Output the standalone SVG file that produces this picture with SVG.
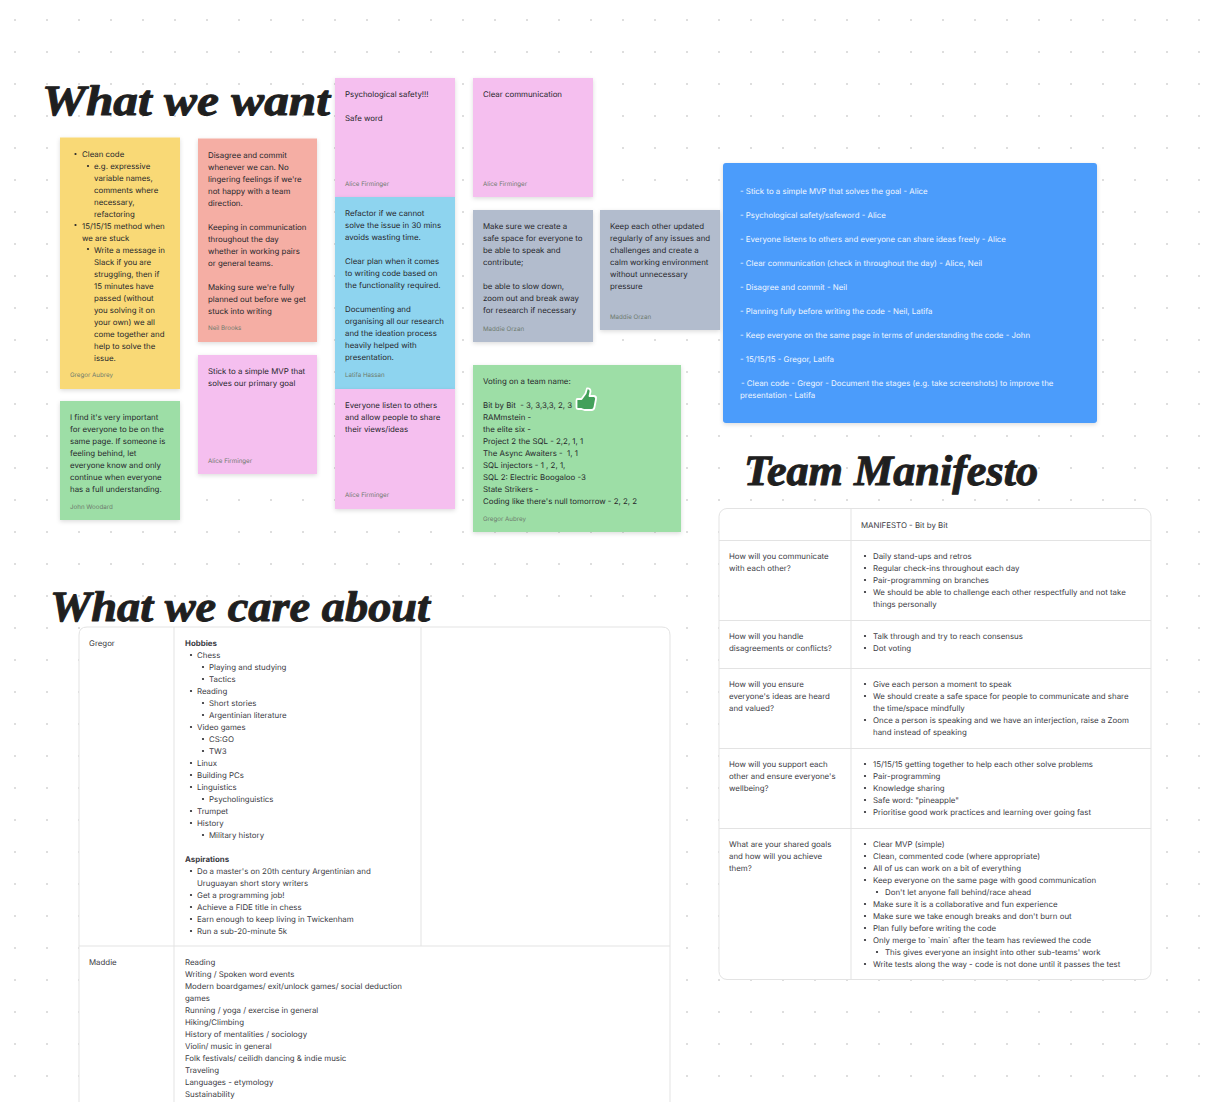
<svg xmlns="http://www.w3.org/2000/svg" width="1210" height="1102" viewBox="0 0 1210 1102">
<style>
text{font-family:Inter,"Liberation Sans",sans-serif;font-size:7.88px;fill:#26262b;text-rendering:geometricPrecision;transform:translateY(-.5px)}
.h{font-family:"Liberation Serif",serif;font-style:italic;font-weight:700;font-size:43px;fill:#1f1f1f;stroke:#1f1f1f;stroke-width:1;stroke-linejoin:round;transform:none}
.a{font-size:6.2px;fill:#6d7a6d}
.w{fill:#f2f7ff}
.t{fill:#3a3a3f}
.b{font-weight:700}
.p{white-space:pre}
.n{filter:url(#s)}
.l{fill:none;stroke:#e3e3e3;stroke-width:1}
</style>
<defs>
<pattern id="d" width="32" height="32" patternUnits="userSpaceOnUse" x="15" y="20"><circle cx="0" cy="0" r="1.1" fill="#d6d6d6"/><circle cx="32" cy="0" r="1.1" fill="#d6d6d6"/><circle cx="0" cy="32" r="1.1" fill="#d6d6d6"/><circle cx="32" cy="32" r="1.1" fill="#d6d6d6"/></pattern>
<filter id="s" x="-10%" y="-10%" width="120%" height="120%"><feDropShadow dx="0" dy="1.5" stdDeviation="2" flood-color="#000" flood-opacity=".14"/></filter>
<g id="bullet"><circle r="1.1" fill="#26262b"/></g>
</defs>
<rect width="1210" height="1102" fill="#fff"/>
<rect width="1210" height="1102" fill="url(#d)"/>

<g id="title-want"><text class="h" x="42" y="115" textLength="288" lengthAdjust="spacingAndGlyphs">What we want</text></g>
<g id="title-care"><text class="h" x="50" y="621" textLength="380" lengthAdjust="spacingAndGlyphs">What we care about</text></g>
<g id="title-manifesto"><text class="h" x="744" y="485" textLength="294" lengthAdjust="spacingAndGlyphs">Team Manifesto</text></g>

<g id="note-yellow"><rect class="n" x="60" y="137.500" width="120" height="251.500" fill="#f9d976"/>
<use href="#bullet" x="75.500" y="154"/><use href="#bullet" x="88" y="166"/><use href="#bullet" x="75.500" y="225"/><use href="#bullet" x="88" y="249"/>
<text y="157"><tspan x="82">Clean code</tspan><tspan x="94" dy="12">e.g. expressive</tspan><tspan x="94" dy="12">variable names,</tspan><tspan x="94" dy="12">comments where</tspan><tspan x="94" dy="12">necessary,</tspan><tspan x="94" dy="12">refactoring</tspan><tspan x="82" dy="12">15/15/15 method when</tspan><tspan x="82" dy="12">we are stuck</tspan><tspan x="94" dy="12">Write a message in</tspan><tspan x="94" dy="12">Slack if you are</tspan><tspan x="94" dy="12">struggling, then if</tspan><tspan x="94" dy="12">15 minutes have</tspan><tspan x="94" dy="12">passed (without</tspan><tspan x="94" dy="12">you solving it on</tspan><tspan x="94" dy="12">your own) we all</tspan><tspan x="94" dy="12">come together and</tspan><tspan x="94" dy="12">help to solve the</tspan><tspan x="94" dy="12">issue.</tspan></text>
<text class="a" x="70" y="377">Gregor Aubrey</text></g>

<g id="note-salmon"><rect class="n" x="198" y="138.500" width="119" height="203.500" fill="#f5aea4"/>
<text y="158"><tspan x="208">Disagree and commit</tspan><tspan x="208" dy="12">whenever we can. No</tspan><tspan x="208" dy="12">lingering feelings if we're</tspan><tspan x="208" dy="12">not happy with a team</tspan><tspan x="208" dy="12">direction.</tspan><tspan x="208" dy="24">Keeping in communication</tspan><tspan x="208" dy="12">throughout the day</tspan><tspan x="208" dy="12">whether in working pairs</tspan><tspan x="208" dy="12">or general teams.</tspan><tspan x="208" dy="24">Making sure we're fully</tspan><tspan x="208" dy="12">planned out before we get</tspan><tspan x="208" dy="12">stuck into writing</tspan></text>
<text class="a" x="208" y="330">Neil Brooks</text></g>

<g id="note-pink-1"><rect class="n" x="335" y="78" width="120" height="119" fill="#f5bfef"/>
<text x="345" y="97">Psychological safety!!!</text><text x="345" y="121">Safe word</text>
<text class="a" x="345" y="186">Alice Firminger</text></g>

<g id="note-pink-2"><rect class="n" x="473" y="78" width="120" height="119" fill="#f5bfef"/>
<text x="483" y="97">Clear communication</text>
<text class="a" x="483" y="186">Alice Firminger</text></g>

<g id="note-blue"><rect class="n" x="335" y="197" width="120" height="192" fill="#8ed4ef"/>
<text y="216"><tspan x="345">Refactor if we cannot</tspan><tspan x="345" dy="12">solve the issue in 30 mins</tspan><tspan x="345" dy="12">avoids wasting time.</tspan><tspan x="345" dy="24">Clear plan when it comes</tspan><tspan x="345" dy="12">to writing code based on</tspan><tspan x="345" dy="12">the functionality required.</tspan><tspan x="345" dy="24">Documenting and</tspan><tspan x="345" dy="12">organising all our research</tspan><tspan x="345" dy="12">and the ideation process</tspan><tspan x="345" dy="12">heavily helped with</tspan><tspan x="345" dy="12">presentation.</tspan></text>
<text class="a" x="345" y="377">Latifa Hassan</text></g>

<g id="note-gray-1"><rect class="n" x="473" y="210" width="120" height="132" fill="#b2bccd"/>
<text y="229"><tspan x="483">Make sure we create a</tspan><tspan x="483" dy="12">safe space for everyone to</tspan><tspan x="483" dy="12">be able to speak and</tspan><tspan x="483" dy="12">contribute;</tspan><tspan x="483" dy="24">be able to slow down,</tspan><tspan x="483" dy="12">zoom out and break away</tspan><tspan x="483" dy="12">for research if necessary</tspan></text>
<text class="a" x="483" y="331">Maddie Orzan</text></g>

<g id="note-gray-2"><rect class="n" x="600" y="210" width="120" height="120" fill="#b2bccd"/>
<text y="229"><tspan x="610">Keep each other updated</tspan><tspan x="610" dy="12">regularly of any issues and</tspan><tspan x="610" dy="12">challenges and create a</tspan><tspan x="610" dy="12">calm working environment</tspan><tspan x="610" dy="12">without unnecessary</tspan><tspan x="610" dy="12">pressure</tspan></text>
<text class="a" x="610" y="319">Maddie Orzan</text></g>

<g id="note-green-1"><rect class="n" x="60" y="401" width="120" height="119" fill="#9ddea6"/>
<text y="420"><tspan x="70">I find it's very important</tspan><tspan x="70" dy="12">for everyone to be on the</tspan><tspan x="70" dy="12">same page. If someone is</tspan><tspan x="70" dy="12">feeling behind, let</tspan><tspan x="70" dy="12">everyone know and only</tspan><tspan x="70" dy="12">continue when everyone</tspan><tspan x="70" dy="12">has a full understanding.</tspan></text>
<text class="a" x="70" y="509">John Woodard</text></g>

<g id="note-pink-3"><rect class="n" x="198" y="355" width="119" height="119" fill="#f5bfef"/>
<text y="374"><tspan x="208">Stick to a simple MVP that</tspan><tspan x="208" dy="12">solves our primary goal</tspan></text>
<text class="a" x="208" y="463">Alice Firminger</text></g>

<g id="note-pink-4"><rect class="n" x="335" y="389" width="120" height="120" fill="#f5bfef"/>
<text y="408"><tspan x="345">Everyone listen to others</tspan><tspan x="345" dy="12">and allow people to share</tspan><tspan x="345" dy="12">their views/ideas</tspan></text>
<text class="a" x="345" y="497">Alice Firminger</text></g>

<g id="note-green-2"><rect class="n" x="473" y="365" width="208" height="167" fill="#9ddea6"/>
<text class="p" y="384"><tspan x="483">Voting on a team name:</tspan><tspan x="483" dy="24">Bit by Bit  - 3, 3,3,3, 2, 3</tspan><tspan x="483" dy="12">RAMmstein -</tspan><tspan x="483" dy="12">the elite six -</tspan><tspan x="483" dy="12">Project 2 the SQL - 2,2, 1, 1</tspan><tspan x="483" dy="12">The Async Awaiters -  1, 1</tspan><tspan x="483" dy="12">SQL injectors - 1 , 2, 1,</tspan><tspan x="483" dy="12">SQL 2: Electric Boogaloo -3</tspan><tspan x="483" dy="12">State Strikers -</tspan><tspan x="483" dy="12">Coding like there's null tomorrow - 2, 2, 2</tspan></text>
<text class="a" x="483" y="521">Gregor Aubrey</text></g>

<g id="thumb"><path d="M578 399h3.500l4-5.500 1.500-5q3.500-.5 3.500 3l-1 4.500h4.500q2.500.5 2 3l-1.500 8q-.5 3-3 3h-7l-3-1h-3.500q-1.500 0-1.500-1.500v-7q0-1.500 1-1.500z" fill="#43a05a" stroke="#fff" stroke-width="1.800" stroke-linejoin="round"/></g>

<g id="note-summary"><rect class="n" x="723" y="163" width="374" height="260" rx="3" fill="#4b9cfb"/>
<text y="194"><tspan class="w" x="740">- Stick to a simple MVP that solves the goal - Alice</tspan><tspan class="w" x="740" dy="24">- Psychological safety/safeword - Alice</tspan><tspan class="w" x="740" dy="24">- Everyone listens to others and everyone can share ideas freely - Alice</tspan><tspan class="w" x="740" dy="24">- Clear communication (check in throughout the day) - Alice, Neil</tspan><tspan class="w" x="740" dy="24">- Disagree and commit - Neil</tspan><tspan class="w" x="740" dy="24">- Planning fully before writing the code - Neil, Latifa</tspan><tspan class="w" x="740" dy="24">- Keep everyone on the same page in terms of understanding the code - John</tspan><tspan class="w" x="740" dy="24">- 15/15/15 - Gregor, Latifa</tspan><tspan class="w" x="741" dy="24">- Clean code - Gregor - Document the stages (e.g. take screenshots) to improve the</tspan><tspan class="w" x="740" dy="12">presentation - Latifa</tspan></text></g>

<g id="table-care">
<path d="M79 1102V635q0-8 8-8H662q8 0 8 8V1102Z" fill="#fff"/>
<path class="l" d="M79 1102V635q0-8 8-8H662q8 0 8 8V1102M174 627V1102M421 627V946M79 946H670"/>
<use href="#bullet" x="191" y="655"/><use href="#bullet" x="203" y="667"/><use href="#bullet" x="203" y="679"/><use href="#bullet" x="191" y="691"/><use href="#bullet" x="203" y="703"/><use href="#bullet" x="203" y="715"/><use href="#bullet" x="191" y="727"/><use href="#bullet" x="203" y="739"/><use href="#bullet" x="203" y="751"/><use href="#bullet" x="191" y="763"/><use href="#bullet" x="191" y="775"/><use href="#bullet" x="191" y="787"/><use href="#bullet" x="203" y="799"/><use href="#bullet" x="191" y="811"/><use href="#bullet" x="191" y="823"/><use href="#bullet" x="203" y="835"/><use href="#bullet" x="191" y="871"/><use href="#bullet" x="191" y="895"/><use href="#bullet" x="191" y="907"/><use href="#bullet" x="191" y="919"/><use href="#bullet" x="191" y="931"/>
<text class="t" x="89" y="646">Gregor</text>
<text class="t" y="646"><tspan class="b" x="185">Hobbies</tspan><tspan x="197" dy="12">Chess</tspan><tspan x="209" dy="12">Playing and studying</tspan><tspan x="209" dy="12">Tactics</tspan><tspan x="197" dy="12">Reading</tspan><tspan x="209" dy="12">Short stories</tspan><tspan x="209" dy="12">Argentinian literature</tspan><tspan x="197" dy="12">Video games</tspan><tspan x="209" dy="12">CS:GO</tspan><tspan x="209" dy="12">TW3</tspan><tspan x="197" dy="12">Linux</tspan><tspan x="197" dy="12">Building PCs</tspan><tspan x="197" dy="12">Linguistics</tspan><tspan x="209" dy="12">Psycholinguistics</tspan><tspan x="197" dy="12">Trumpet</tspan><tspan x="197" dy="12">History</tspan><tspan x="209" dy="12">Military history</tspan><tspan class="b" x="185" dy="24">Aspirations</tspan><tspan x="197" dy="12">Do a master's on 20th century Argentinian and</tspan><tspan x="197" dy="12">Uruguayan short story writers</tspan><tspan x="197" dy="12">Get a programming job!</tspan><tspan x="197" dy="12">Achieve a FIDE title in chess</tspan><tspan x="197" dy="12">Earn enough to keep living in Twickenham</tspan><tspan x="197" dy="12">Run a sub-20-minute 5k</tspan></text>
<text class="t" x="89" y="965">Maddie</text>
<text class="t" y="965"><tspan x="185">Reading</tspan><tspan x="185" dy="12">Writing / Spoken word events</tspan><tspan x="185" dy="12">Modern boardgames/ exit/unlock games/ social deduction</tspan><tspan x="185" dy="12">games</tspan><tspan x="185" dy="12">Running / yoga / exercise in general</tspan><tspan x="185" dy="12">Hiking/Climbing</tspan><tspan x="185" dy="12">History of mentalities / sociology</tspan><tspan x="185" dy="12">Violin/ music in general</tspan><tspan x="185" dy="12">Folk festivals/ ceilidh dancing &amp; indie music</tspan><tspan x="185" dy="12">Traveling</tspan><tspan x="185" dy="12">Languages - etymology</tspan><tspan x="185" dy="12">Sustainability</tspan></text>
</g>

<g id="table-manifesto">
<rect class="l" x="719" y="508.500" width="432" height="471" rx="8" style="fill:#fff"/>
<path class="l" d="M851 508.500V979M719 540.500H1151M719 620.500H1151M719 668.500H1151M719 748.500H1151M719 828.500H1151"/>
<use href="#bullet" x="865" y="556"/><use href="#bullet" x="865" y="568"/><use href="#bullet" x="865" y="580"/><use href="#bullet" x="865" y="592"/><use href="#bullet" x="865" y="636"/><use href="#bullet" x="865" y="648"/><use href="#bullet" x="865" y="684"/><use href="#bullet" x="865" y="696"/><use href="#bullet" x="865" y="720"/><use href="#bullet" x="865" y="764"/><use href="#bullet" x="865" y="776"/><use href="#bullet" x="865" y="788"/><use href="#bullet" x="865" y="800"/><use href="#bullet" x="865" y="812"/><use href="#bullet" x="865" y="844"/><use href="#bullet" x="865" y="856"/><use href="#bullet" x="865" y="868"/><use href="#bullet" x="865" y="880"/><use href="#bullet" x="877" y="892"/><use href="#bullet" x="865" y="904"/><use href="#bullet" x="865" y="916"/><use href="#bullet" x="865" y="928"/><use href="#bullet" x="865" y="940"/><use href="#bullet" x="877" y="952"/><use href="#bullet" x="865" y="964"/>
<text class="t" x="861" y="528">MANIFESTO - Bit by Bit</text>
<text class="t" y="559"><tspan x="729">How will you communicate</tspan><tspan x="729" dy="12">with each other?</tspan></text>
<text class="t" y="559"><tspan x="873">Daily stand-ups and retros</tspan><tspan x="873" dy="12">Regular check-ins throughout each day</tspan><tspan x="873" dy="12">Pair-programming on branches</tspan><tspan x="873" dy="12">We should be able to challenge each other respectfully and not take</tspan><tspan x="873" dy="12">things personally</tspan></text>
<text class="t" y="639"><tspan x="729">How will you handle</tspan><tspan x="729" dy="12">disagreements or conflicts?</tspan></text>
<text class="t" y="639"><tspan x="873">Talk through and try to reach consensus</tspan><tspan x="873" dy="12">Dot voting</tspan></text>
<text class="t" y="687"><tspan x="729">How will you ensure</tspan><tspan x="729" dy="12">everyone's ideas are heard</tspan><tspan x="729" dy="12">and valued?</tspan></text>
<text class="t" y="687"><tspan x="873">Give each person a moment to speak</tspan><tspan x="873" dy="12">We should create a safe space for people to communicate and share</tspan><tspan x="873" dy="12">the time/space mindfully</tspan><tspan x="873" dy="12">Once a person is speaking and we have an interjection, raise a Zoom</tspan><tspan x="873" dy="12">hand instead of speaking</tspan></text>
<text class="t" y="767"><tspan x="729">How will you support each</tspan><tspan x="729" dy="12">other and ensure everyone's</tspan><tspan x="729" dy="12">wellbeing?</tspan></text>
<text class="t" y="767"><tspan x="873">15/15/15 getting together to help each other solve problems</tspan><tspan x="873" dy="12">Pair-programming</tspan><tspan x="873" dy="12">Knowledge sharing</tspan><tspan x="873" dy="12">Safe word: "pineapple"</tspan><tspan x="873" dy="12">Prioritise good work practices and learning over going fast</tspan></text>
<text class="t" y="847"><tspan x="729">What are your shared goals</tspan><tspan x="729" dy="12">and how will you achieve</tspan><tspan x="729" dy="12">them?</tspan></text>
<text class="t" y="847"><tspan x="873">Clear MVP (simple)</tspan><tspan x="873" dy="12">Clean, commented code (where appropriate)</tspan><tspan x="873" dy="12">All of us can work on a bit of everything</tspan><tspan x="873" dy="12">Keep everyone on the same page with good communication</tspan><tspan x="885" dy="12">Don't let anyone fall behind/race ahead</tspan><tspan x="873" dy="12">Make sure it is a collaborative and fun experience</tspan><tspan x="873" dy="12">Make sure we take enough breaks and don't burn out</tspan><tspan x="873" dy="12">Plan fully before writing the code</tspan><tspan x="873" dy="12">Only merge to `main` after the team has reviewed the code</tspan><tspan x="885" dy="12">This gives everyone an insight into other sub-teams' work</tspan><tspan x="873" dy="12">Write tests along the way - code is not done until it passes the test</tspan></text>
</g>
</svg>
